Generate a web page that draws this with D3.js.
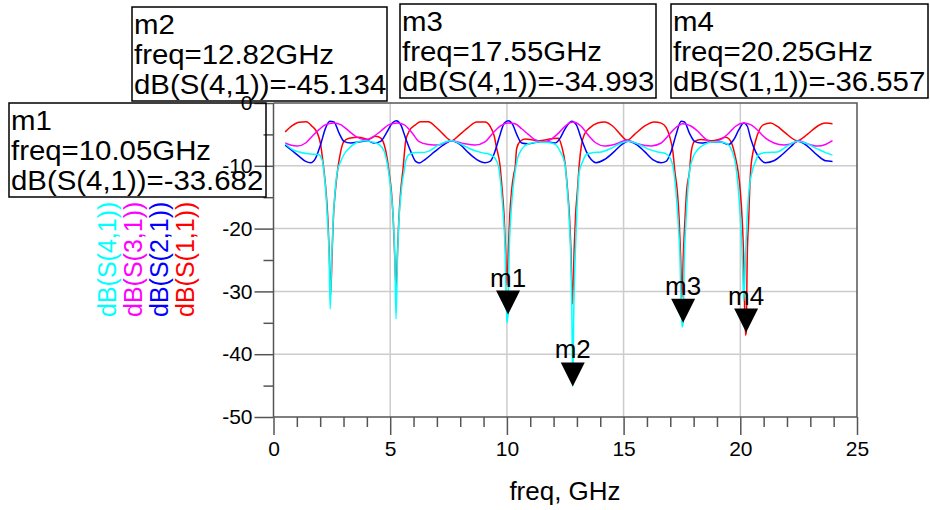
<!DOCTYPE html>
<html>
<head>
<meta charset="utf-8">
<script src="https://cdn.jsdelivr.net/npm/d3@7"></script>
<style>
  html, body { margin: 0; padding: 0; background: #ffffff; }
  svg { display: block; font-family: "Liberation Sans", Arial, Helvetica, sans-serif; }
</style>
</head>
<body>
<svg id="chart" width="930" height="510"></svg>
<script>
// ---- axis ticks ----
const xTickValues = [0, 5, 10, 15, 20, 25];
const xMinorValues = [1, 2, 3, 4, 6, 7, 8, 9, 11, 12, 13, 14, 16, 17, 18, 19, 21, 22, 23, 24];
const yTickValues = [0, -10, -20, -30, -40, -50];
const yMinorValues = [-5, -15, -25, -35, -45];
const xAxisTitle = "freq, GHz";

// ---- traces: [freq GHz, dB] ----
const traceNames = ["dB(S(4,1))", "dB(S(3,1))", "dB(S(2,1))", "dB(S(1,1))"];

const s11 = [[0.5,-4.6],[0.8,-3.6],[1.1,-3.05],[1.4,-3.0],[1.65,-3.7],[1.88,-4.8],[2.02,-6.6],[2.1,-8.8],[2.17,-11],[2.25,-14],[2.33,-18.5],[2.39,-24],[2.45,-30.5],[2.51,-24],[2.57,-18],[2.65,-14],[2.74,-10.9],[2.88,-7.7],[3.02,-6.1],[3.24,-5.6],[3.66,-5.45],[4.05,-5.8],[4.38,-5.3],[4.6,-5.6],[4.74,-6.6],[4.87,-8.8],[4.95,-11],[5.05,-14],[5.13,-18.5],[5.19,-24],[5.25,-29.5],[5.31,-24],[5.37,-18.5],[5.45,-14],[5.55,-10.5],[5.62,-7.5],[5.66,-6.1],[5.81,-4.5],[6.09,-3.45],[6.3,-3.0],[6.64,-3.0],[6.92,-3.7],[7.28,-5.0],[7.63,-6.0],[7.99,-5.0],[8.35,-3.87],[8.71,-3.03],[9.06,-3.03],[9.28,-3.7],[9.46,-5.3],[9.56,-7.2],[9.7,-9.8],[9.78,-13],[9.88,-18],[9.94,-23],[10.0,-29],[10.06,-23.5],[10.12,-18],[10.2,-14],[10.3,-11.2],[10.35,-10.35],[10.42,-7.2],[10.57,-6.1],[10.78,-5.73],[11.35,-6.0],[11.92,-5.7],[12.2,-5.6],[12.35,-6.9],[12.5,-9.8],[12.58,-13],[12.68,-18],[12.74,-23],[12.81,-32],[12.88,-23.5],[12.94,-18],[13.02,-14],[13.1,-9.8],[13.2,-6.6],[13.32,-5.0],[13.54,-4.0],[13.89,-3.18],[14.18,-3.03],[14.54,-3.7],[14.9,-5.15],[15.15,-5.95],[15.47,-5.0],[15.89,-3.7],[16.32,-3.03],[16.61,-3.2],[16.82,-3.87],[16.97,-5.3],[17.11,-7.7],[17.2,-11],[17.3,-14],[17.38,-18.5],[17.44,-24],[17.5,-31],[17.56,-24],[17.63,-18.5],[17.7,-14],[17.82,-11],[17.9,-7.7],[18.04,-6.1],[18.32,-5.8],[18.75,-6.0],[19.08,-5.8],[19.37,-5.46],[19.51,-5.7],[19.65,-6.6],[19.8,-8.8],[19.91,-11],[20.0,-14],[20.08,-18.5],[20.14,-24],[20.22,-37.0],[20.25,-36.557],[20.3,-24],[20.36,-18.5],[20.4,-14],[20.44,-11],[20.55,-7.7],[20.65,-6.1],[20.79,-4.5],[21.0,-3.45],[21.29,-3.2],[21.58,-3.7],[21.94,-4.8],[22.44,-6.0],[22.87,-5.0],[23.3,-3.7],[23.65,-3.2],[23.95,-3.3]];

const s21 = [[0.5,-6.7],[0.8,-7.6],[1.1,-8.5],[1.38,-9.3],[1.59,-9.5],[1.8,-8.8],[2.02,-6.6],[2.23,-4.0],[2.41,-2.92],[2.59,-3.03],[2.81,-4.8],[3.02,-6.1],[3.31,-6.37],[3.66,-6.2],[4.02,-6.0],[4.31,-6.37],[4.59,-6.1],[4.88,-4.5],[5.09,-3.18],[5.26,-2.82],[5.45,-3.45],[5.66,-5.6],[5.88,-7.7],[6.09,-9.3],[6.25,-9.55],[6.49,-9.0],[6.92,-7.7],[7.35,-6.5],[7.63,-6.0],[7.99,-6.6],[8.35,-7.9],[8.71,-9.0],[9.06,-9.5],[9.28,-9.3],[9.49,-7.7],[9.71,-5.0],[9.89,-3.18],[10.06,-2.82],[10.25,-3.45],[10.42,-5.0],[10.63,-6.37],[10.92,-6.5],[11.35,-6.2],[11.78,-6.2],[12.07,-6.37],[12.28,-5.6],[12.45,-4.4],[12.6,-3.5],[12.78,-2.92],[12.97,-3.45],[13.18,-5.6],[13.4,-7.7],[13.61,-9.0],[13.82,-9.5],[14.18,-9.0],[14.61,-7.7],[14.96,-6.5],[15.2,-6.1],[15.54,-6.6],[15.89,-7.7],[16.25,-9.0],[16.61,-9.5],[16.82,-9.3],[17.04,-7.7],[17.25,-5.0],[17.47,-2.92],[17.61,-3.03],[17.82,-4.8],[18.04,-6.1],[18.32,-6.37],[18.75,-6.2],[19.15,-6.2],[19.51,-6.6],[19.72,-5.84],[19.94,-4.25],[20.15,-3.18],[20.3,-3.7],[20.44,-5.6],[20.65,-7.7],[20.87,-9.0],[21.08,-9.5],[21.44,-9.2],[21.8,-8.2],[22.15,-7.0],[22.47,-6.1],[22.87,-6.85],[23.3,-8.3],[23.65,-9.2],[23.95,-9.3]];

const s31 = [[0.5,-6.37],[0.73,-6.7],[1.02,-6.85],[1.38,-6.37],[1.66,-5.3],[1.95,-4.25],[2.23,-3.45],[2.59,-3.18],[2.88,-3.45],[3.16,-4.25],[3.52,-5.3],[3.95,-5.84],[4.23,-5.46],[4.59,-4.5],[4.95,-3.45],[5.31,-3.18],[5.59,-3.45],[5.95,-4.8],[6.22,-6.1],[6.64,-6.6],[7.06,-6.7],[7.63,-6.0],[8.21,-6.5],[8.64,-6.7],[9.06,-6.2],[9.35,-5.0],[9.71,-3.7],[10.06,-3.18],[10.35,-3.3],[10.63,-4.1],[10.92,-5.0],[11.2,-5.84],[11.56,-6.2],[11.92,-5.7],[12.21,-4.8],[12.49,-3.7],[12.82,-3.03],[13.18,-3.7],[13.46,-5.0],[13.82,-6.37],[14.18,-6.85],[14.61,-6.6],[15.15,-5.95],[15.6,-6.5],[16.18,-6.85],[16.61,-6.37],[16.89,-5.3],[17.18,-4.1],[17.54,-3.3],[17.9,-3.7],[18.18,-4.5],[18.47,-5.6],[18.73,-6.2],[19.15,-5.84],[19.51,-4.8],[19.8,-3.7],[20.15,-3.18],[20.44,-3.45],[20.72,-4.25],[21.08,-5.6],[21.44,-6.37],[21.87,-6.7],[22.29,-6.37],[22.51,-6.0],[22.87,-6.5],[23.3,-6.85],[23.65,-6.6],[23.95,-6.0]];

const s41 = [[0.5,-6.5],[0.8,-7.4],[1.1,-7.8],[1.5,-8.1],[1.95,-8.2],[2.05,-8.8],[2.1,-9.3],[2.16,-11],[2.24,-14],[2.31,-18.5],[2.38,-24],[2.43,-32.8],[2.49,-25],[2.56,-18.5],[2.64,-14],[2.73,-11],[2.88,-9.3],[3.02,-8.2],[3.24,-7.2],[3.52,-6.37],[3.88,-6.0],[4.23,-6.2],[4.52,-6.6],[4.74,-7.7],[4.88,-9.8],[4.97,-12],[5.06,-15],[5.14,-19],[5.2,-25],[5.25,-34.4],[5.31,-25],[5.37,-19],[5.45,-15],[5.52,-12.5],[5.59,-11],[5.66,-9.3],[5.81,-8.2],[6.09,-7.9],[6.31,-7.9],[6.64,-7.7],[7.06,-6.7],[7.63,-6.0],[8.06,-6.6],[8.49,-7.4],[8.92,-7.9],[9.28,-8.2],[9.49,-8.8],[9.64,-10.1],[9.74,-13],[9.84,-17.5],[9.92,-23],[10.0,-35.0],[10.05,-33.682],[10.1,-23.5],[10.17,-18],[10.25,-14],[10.35,-11],[10.46,-8.8],[10.63,-7.4],[10.92,-6.5],[11.35,-6.2],[11.78,-6.3],[12.07,-6.6],[12.28,-7.7],[12.49,-9.8],[12.57,-13],[12.66,-18],[12.73,-24],[12.78,-32],[12.82,-45.134],[12.87,-32],[12.93,-24],[13.0,-17],[13.05,-13.5],[13.1,-11],[13.25,-9.3],[13.4,-8.2],[13.68,-7.9],[14.04,-7.8],[14.47,-7.2],[14.9,-6.37],[15.2,-6.1],[15.6,-6.5],[16.04,-7.3],[16.46,-7.8],[16.82,-8.1],[17.0,-8.8],[17.14,-10.6],[17.24,-14],[17.33,-18.5],[17.41,-24],[17.5,-35.7],[17.55,-34.993],[17.6,-25],[17.67,-19],[17.74,-14.5],[17.82,-11],[17.96,-8.8],[18.18,-7.4],[18.47,-6.6],[18.75,-6.2],[19.15,-6.2],[19.44,-6.5],[19.65,-7.7],[19.8,-9.8],[19.9,-13],[19.99,-17.5],[20.07,-23],[20.15,-31.5],[20.22,-25],[20.29,-18.5],[20.37,-14],[20.5,-11],[20.65,-9.3],[20.79,-8.2],[21.08,-7.9],[21.58,-7.8],[22.01,-6.85],[22.44,-6.1],[22.87,-6.5],[23.3,-7.3],[23.65,-7.9],[23.95,-8.3]];

// ---- markers ----
const markerNames = ["m1", "m2", "m3", "m4"];
const markerFreq = [10.05, 12.82, 17.55, 20.25];
const markerTrace = ["dB(S(4,1))", "dB(S(4,1))", "dB(S(4,1))", "dB(S(1,1))"];
const markerValue = [-33.682, -45.134, -34.993, -36.557];

// ---- styling / layout ----
const traceColor = {
  "dB(S(4,1))": "#00ffff",
  "dB(S(3,1))": "#ff00ff",
  "dB(S(2,1))": "#0000ff",
  "dB(S(1,1))": "#ff0000"
};
const traceData = {
  "dB(S(4,1))": s41,
  "dB(S(3,1))": s31,
  "dB(S(2,1))": s21,
  "dB(S(1,1))": s11
};
const drawOrder = ["dB(S(1,1))", "dB(S(2,1))", "dB(S(3,1))", "dB(S(4,1))"];

// readout box positions [left, top, width, height]
const boxLayout = {
  m1: [9, 103, 257, 94],
  m2: [132, 7, 255, 94],
  m3: [400, 4, 256, 94],
  m4: [671, 4, 257, 94]
};

const plot = { left: 273.5, right: 857, top: 103, bottom: 417 };
const axisColor = "#555555";
const gridColor = "#cccccc";

// plain ASCII hyphen for negative numbers
const locale = d3.formatLocale({ decimal: ".", thousands: ",", grouping: [3], currency: ["", ""], minus: "-" });
const fmtInt = locale.format("d");
const fmtFreq = locale.format(".2f");
const fmtVal = locale.format(".3f");

const svg = d3.select("#chart");

const x = d3.scaleLinear().domain([0, 25]).range([plot.left, plot.right]);
const y = d3.scaleLinear().domain([-50, 0]).range([plot.bottom, plot.top]);

// grid
const grid = svg.append("g").attr("stroke", gridColor).attr("stroke-width", 1.5);
grid.selectAll("line.gx").data(xTickValues.filter(v => v > 0 && v < 25)).join("line")
  .attr("x1", d => x(d)).attr("x2", d => x(d))
  .attr("y1", plot.top).attr("y2", plot.bottom);
grid.selectAll("line.gy").data(yTickValues.filter(v => v < 0 && v > -50)).join("line")
  .attr("x1", plot.left).attr("x2", plot.right)
  .attr("y1", d => y(d)).attr("y2", d => y(d));

// frame (top and right)
svg.append("path")
  .attr("d", `M${plot.left},${plot.top}H${plot.right}V${plot.bottom}`)
  .attr("fill", "none").attr("stroke", axisColor).attr("stroke-width", 1.5);

function styleAxis(g) {
  g.select(".domain").remove();
  g.selectAll(".tick line").attr("stroke", axisColor).attr("stroke-width", 1.5);
  g.selectAll(".tick text").attr("fill", "#000").attr("font-family", null);
}

// y axis
const yMajor = svg.append("g").attr("transform", `translate(${plot.left},0)`)
  .call(d3.axisLeft(y).tickValues(yTickValues).tickSize(19).tickPadding(2).tickFormat(fmtInt));
yMajor.call(styleAxis);
yMajor.selectAll(".tick text").attr("font-size", 21);
const yMinor = svg.append("g").attr("transform", `translate(${plot.left},0)`)
  .call(d3.axisLeft(y).tickValues(yMinorValues).tickSize(10).tickFormat(""));
yMinor.call(styleAxis);

// x axis
const xMajor = svg.append("g").attr("transform", `translate(0,${plot.bottom})`)
  .call(d3.axisBottom(x).tickValues(xTickValues).tickSize(18).tickPadding(6).tickFormat(fmtInt));
xMajor.call(styleAxis);
xMajor.selectAll(".tick text").attr("font-size", 21);
const xMinor = svg.append("g").attr("transform", `translate(0,${plot.bottom})`)
  .call(d3.axisBottom(x).tickValues(xMinorValues).tickSize(10).tickFormat(""));
xMinor.call(styleAxis);

// axis lines
svg.append("line").attr("x1", plot.left).attr("x2", plot.left)
  .attr("y1", plot.top).attr("y2", plot.bottom)
  .attr("stroke", axisColor).attr("stroke-width", 1.5);
svg.append("line").attr("x1", plot.left).attr("x2", plot.right)
  .attr("y1", plot.bottom).attr("y2", plot.bottom)
  .attr("stroke", axisColor).attr("stroke-width", 1.5);

// x axis title
svg.append("text")
  .attr("x", 565).attr("y", 500)
  .attr("text-anchor", "middle").attr("font-size", 26)
  .text(xAxisTitle);

// traces
const line = d3.line().x(d => x(d[0])).y(d => y(d[1])).curve(d3.curveMonotoneX);
svg.append("g").selectAll("path").data(drawOrder).join("path")
  .attr("d", name => line(traceData[name]))
  .attr("fill", "none")
  .attr("stroke", name => traceColor[name])
  .attr("stroke-width", 1.5)
  .attr("stroke-linejoin", "round");

// vertical trace legend along the y axis
const legendBase = [116, 142, 168, 194];
svg.append("g").selectAll("text").data(traceNames).join("text")
  .attr("transform", (d, i) => `translate(${legendBase[i]},317) rotate(-90)`)
  .attr("font-size", 25)
  .attr("fill", d => traceColor[d])
  .text(d => d);

// markers: triangle pointing at the value, name above
const markers = svg.append("g");
markerNames.forEach((name, i) => {
  const px = x(markerFreq[i]);
  const py = y(markerValue[i]);
  markers.append("path")
    .attr("d", `M${px},${py}L${px - 12},${py - 24}L${px + 12},${py - 24}Z`)
    .attr("fill", "#000");
  markers.append("text")
    .attr("x", px).attr("y", py - 28)
    .attr("text-anchor", "middle").attr("font-size", 26)
    .text(name);
});

// marker readout boxes
markerNames.forEach((name, i) => {
  const [bx, by, bw, bh] = boxLayout[name];
  const g = svg.append("g");
  g.append("rect").attr("x", bx).attr("y", by).attr("width", bw).attr("height", bh)
    .attr("fill", "none").attr("stroke", "#000").attr("stroke-width", 1.5);
  const lines = [name, `freq=${fmtFreq(markerFreq[i])}GHz`, `${markerTrace[i]}=${fmtVal(markerValue[i])}`];
  g.selectAll("text").data(lines).join("text")
    .attr("transform", (d, k) => `translate(${bx + 2},${by + 27 + 30 * k}) scale(1.05,1)`)
    .attr("font-size", 28)
    .text(d => d);
});
</script>
</body>
</html>
